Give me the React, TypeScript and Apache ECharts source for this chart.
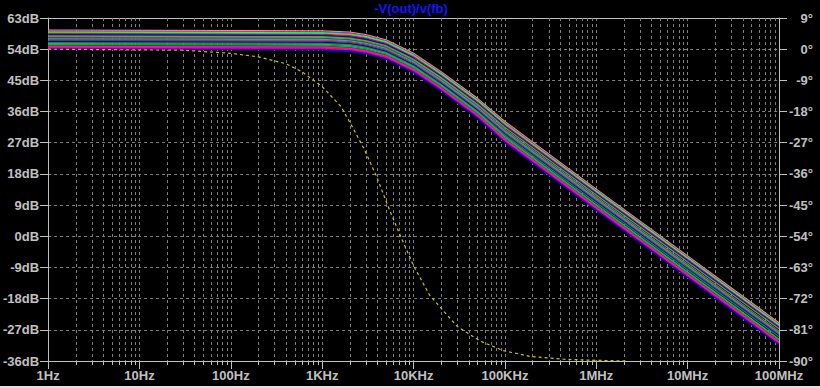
import React, { useEffect, useRef } from "react";
import * as echarts from "echarts";

// ---- axis definitions ----
const X_TICK_LABELS = ["1Hz", "10Hz", "100Hz", "1KHz", "10KHz", "100KHz", "1MHz", "10MHz", "100MHz"];
const DB_MIN = -36;
const DB_MAX = 63;
const DB_STEP = 9;
const PH_MIN = -90;
const PH_MAX = 9;
const PH_STEP = 9;
const TITLE = "-V(out)/v(fb)";

// ---- magnitude traces (dB) sampled at these frequencies ----
const FREQ = [1, 1e3, 2e3, 3e3, 5e3, 1e4, 2e4, 5e4, 1e5, 1e6, 1e7, 1e8];

const TRACE_01 = [59.5, 59.3, 58.9, 58.2, 56.7, 52.8, 47.5, 39.8, 33.1, 13.6, -5.7, -25.0];
const TRACE_02 = [59.2, 59.0, 58.6, 57.9, 56.4, 52.5, 47.2, 39.5, 32.8, 13.3, -6.0, -25.3];
const TRACE_03 = [58.9, 58.7, 58.3, 57.6, 56.1, 52.2, 46.9, 39.2, 32.5, 13.0, -6.3, -25.6];
const TRACE_04 = [58.7, 58.5, 58.1, 57.4, 55.9, 52.0, 46.7, 39.0, 32.3, 12.8, -6.5, -25.8];
const TRACE_05 = [58.4, 58.2, 57.8, 57.1, 55.6, 51.7, 46.4, 38.7, 32.0, 12.5, -6.8, -26.1];
const TRACE_06 = [58.1, 57.9, 57.5, 56.8, 55.3, 51.4, 46.1, 38.4, 31.7, 12.2, -7.1, -26.4];
const TRACE_07 = [57.8, 57.6, 57.2, 56.5, 55.0, 51.1, 45.8, 38.1, 31.4, 11.9, -7.4, -26.7];
const TRACE_08 = [57.5, 57.3, 56.9, 56.2, 54.7, 50.8, 45.5, 37.7, 30.8, 11.3, -8.1, -27.4];
const TRACE_09 = [57.3, 57.1, 56.7, 56.0, 54.5, 50.6, 45.3, 37.5, 30.6, 11.1, -8.3, -27.6];
const TRACE_10 = [57.0, 56.8, 56.4, 55.7, 54.2, 50.3, 45.0, 37.2, 30.3, 10.8, -8.6, -27.9];
const TRACE_11 = [56.7, 56.5, 56.1, 55.4, 53.9, 50.0, 44.7, 36.9, 30.0, 10.5, -8.9, -28.2];
const TRACE_12 = [56.4, 56.2, 55.8, 55.1, 53.6, 49.7, 44.4, 36.6, 29.7, 10.2, -9.2, -28.5];
const TRACE_13 = [56.1, 55.9, 55.5, 54.8, 53.3, 49.4, 44.1, 36.3, 29.4, 9.9, -9.5, -28.8];
const TRACE_14 = [55.9, 55.7, 55.3, 54.6, 53.1, 49.2, 43.9, 36.1, 29.2, 9.7, -9.7, -29.0];
const TRACE_15 = [55.6, 55.4, 55.0, 54.3, 52.8, 48.9, 43.6, 35.8, 28.7, 9.1, -10.3, -29.7];
const TRACE_16 = [55.3, 55.1, 54.7, 54.0, 52.5, 48.6, 43.3, 35.5, 28.4, 8.8, -10.6, -30.0];
const TRACE_17 = [55.0, 54.8, 54.4, 53.7, 52.2, 48.3, 43.0, 35.2, 28.1, 8.5, -10.9, -30.3];
const TRACE_18 = [54.8, 54.6, 54.2, 53.5, 52.0, 48.1, 42.8, 35.0, 27.9, 8.3, -11.1, -30.5];
const TRACE_19 = [54.5, 54.3, 53.9, 53.2, 51.7, 47.8, 42.5, 34.7, 27.6, 8.0, -11.4, -30.8];
const TRACE_20 = [54.3, 54.1, 53.7, 53.0, 51.5, 47.6, 42.3, 34.5, 27.4, 7.8, -11.6, -31.0];
const TRACE_21 = [54.0, 53.8, 53.4, 52.7, 51.2, 47.3, 42.0, 34.2, 27.1, 7.5, -11.9, -31.3];

const TRACES = [
  TRACE_01, TRACE_02, TRACE_03, TRACE_04, TRACE_05, TRACE_06, TRACE_07,
  TRACE_08, TRACE_09, TRACE_10, TRACE_11, TRACE_12, TRACE_13, TRACE_14,
  TRACE_15, TRACE_16, TRACE_17, TRACE_18, TRACE_19, TRACE_20, TRACE_21,
];

const TRACE_COLORS = [
  "#c0c000", "#ff00ff", "#00ffff", "#00ff00", "#ff0000", "#0000ff", "#808080",
  "#00ff00", "#804000", "#00c0c0", "#ff00ff", "#008000", "#000080", "#008080",
  "#808080", "#00c000", "#008000", "#ff00ff", "#ff00ff", "#ff0000", "#0000ff",
];

// ---- phase trace (degrees, right axis) ----
const PHASE_FREQ = [1, 30, 100, 200, 400, 600, 1000, 1600, 2200, 2900, 3900, 5200, 7200, 10000, 15000, 30000, 54000, 96000, 190000, 440000, 1000000, 2100000];
const PHASE_DEG = [0, -0.3, -1.2, -2.2, -4.2, -6.5, -10.8, -16.5, -23.0, -29.0, -36.5, -45.0, -54.0, -62.5, -71.0, -80.0, -84.3, -87.0, -88.7, -89.5, -89.8, -90.0];

const AXIS_COLOR = "#c0c0c0";
const GRID_COLOR = "#808080";
const FONT = "Liberation Sans";

function minorFreqs(): number[] {
  const out: number[] = [];
  for (let d = 0; d < 8; d++) {
    for (let k = 2; k <= 9; k++) out.push(k * Math.pow(10, d));
  }
  return out;
}

export default function App() {
  const ref = useRef<HTMLDivElement>(null);

  useEffect(() => {
    if (!ref.current) return;
    const chart = echarts.init(ref.current, undefined, { renderer: "svg" });

    const labelStyle = {
      color: AXIS_COLOR,
      fontSize: 13,
      fontWeight: "bold" as const,
      fontFamily: FONT,
    };

    const traceSeries = TRACES.map((tr, i) => ({
      type: "line",
      xAxisIndex: 0,
      yAxisIndex: 0,
      data: FREQ.map((f, j) => [f, tr[j]]),
      showSymbol: false,
      symbol: "none",
      silent: true,
      z: 3,
      lineStyle: { color: TRACE_COLORS[i], width: 1.3 },
      emphasis: { disabled: true },
    }));

    const option: any = {
      animation: false,
      backgroundColor: "#000000",
      grid: { left: 46, right: 41, top: 18, bottom: 27, containLabel: false },
      graphic: [
        {
          type: "text",
          x: 411,
          y: 8,
          style: {
            text: TITLE,
            fill: "#1414ff",
            fontSize: 13,
            fontWeight: "bold",
            fontFamily: FONT,
            align: "center",
            verticalAlign: "middle",
          },
        },
        {
          type: "rect",
          shape: { x: 0, y: 386, width: 820, height: 2 },
          style: { fill: "#e0e0e0" },
        },
      ],
      xAxis: [
        {
          type: "log",
          logBase: 10,
          min: 1,
          max: 1e8,
          position: "bottom",
          axisLine: { show: true, onZero: false, lineStyle: { color: AXIS_COLOR, width: 1 } },
          axisTick: { show: true, length: 8, lineStyle: { color: AXIS_COLOR } },
          axisLabel: {
            ...labelStyle,
            margin: 8,
            showMinLabel: true,
            showMaxLabel: true,
            formatter: (v: number) => X_TICK_LABELS[Math.round(Math.log10(v))] ?? "",
          },
          splitLine: {
            show: true,
            showMinLine: false,
            showMaxLine: false,
            lineStyle: { color: GRID_COLOR, type: [3, 3], width: 1 },
          },
          minorTick: { show: false },
        },
        {
          type: "log",
          logBase: 10,
          min: 1,
          max: 1e8,
          position: "top",
          axisLine: { show: true, onZero: false, lineStyle: { color: AXIS_COLOR, width: 1 } },
          axisTick: { show: false },
          axisLabel: { show: false },
          splitLine: { show: false },
        },
      ],
      yAxis: [
        {
          type: "value",
          min: DB_MIN,
          max: DB_MAX,
          interval: DB_STEP,
          position: "left",
          axisLine: { show: true, onZero: false, lineStyle: { color: AXIS_COLOR, width: 1 } },
          axisTick: { show: true, length: 8, lineStyle: { color: AXIS_COLOR } },
          axisLabel: { ...labelStyle, margin: 9, formatter: (v: number) => `${v}dB` },
          splitLine: {
            show: true,
            showMinLine: false,
            showMaxLine: false,
            lineStyle: { color: GRID_COLOR, type: [3, 3], width: 1 },
          },
        },
        {
          type: "value",
          min: PH_MIN,
          max: PH_MAX,
          interval: PH_STEP,
          position: "right",
          axisLine: { show: true, onZero: false, lineStyle: { color: AXIS_COLOR, width: 1 } },
          axisTick: { show: true, length: 8, lineStyle: { color: AXIS_COLOR } },
          axisLabel: { ...labelStyle, margin: 34, align: "right", formatter: (v: number) => `${v}°` },
          splitLine: { show: false },
        },
      ],
      series: [
        {
          type: "custom",
          xAxisIndex: 0,
          yAxisIndex: 0,
          silent: true,
          clip: false,
          z: 1,
          data: minorFreqs().map((f) => [f, DB_MIN]),
          encode: { x: 0, y: 1 },
          renderItem: (_params: any, api: any) => {
            const p = api.coord([api.value(0), DB_MAX]);
            const q = api.coord([api.value(0), DB_MIN]);
            const x = Math.round(p[0]) + 0.5;
            return {
              type: "group",
              children: [
                {
                  type: "line",
                  shape: { x1: x, y1: p[1], x2: x, y2: q[1] },
                  style: { stroke: GRID_COLOR, lineWidth: 1, lineDash: [3, 3] },
                },
                {
                  type: "line",
                  shape: { x1: x, y1: q[1], x2: x, y2: q[1] + 4 },
                  style: { stroke: AXIS_COLOR, lineWidth: 1 },
                },
              ],
            };
          },
        },
        ...traceSeries,
        {
          type: "line",
          xAxisIndex: 0,
          yAxisIndex: 1,
          data: PHASE_FREQ.map((f, j) => [f, PHASE_DEG[j]]),
          showSymbol: false,
          symbol: "none",
          silent: true,
          z: 4,
          lineStyle: { color: "#c8c800", width: 1.2, type: [3, 3] },
          emphasis: { disabled: true },
        },
      ],
    };

    chart.setOption(option);
    return () => chart.dispose();
  }, []);

  return (
    <div
      ref={ref}
      style={{ position: "absolute", left: 0, top: 0, width: 820, height: 388, background: "#000" }}
    />
  );
}
